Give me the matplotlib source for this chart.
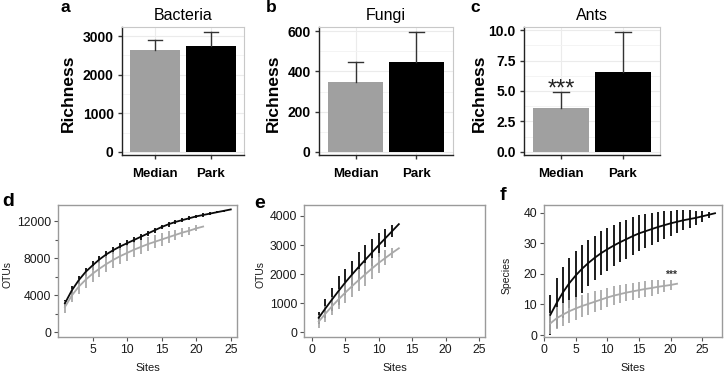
import numpy as np
import matplotlib.pyplot as plt
from matplotlib.ticker import MultipleLocator

plt.rcParams['font.family'] = ['Liberation Sans', 'DejaVu Sans']

# --- top row: richness bars (mean + sd) ---
groups = ['Median', 'Park']
bacteria_mean = [2640, 2750]
bacteria_sd = [260, 345]
fungi_mean = [347, 446]
fungi_sd = [100, 148]
ants_mean = [3.57, 6.55]
ants_sd = [1.32, 3.26]

# --- bottom row: accumulation curves ---
d_sites_park = np.arange(1, 26)
d_park = [3100, 4500, 5600, 6500, 7200, 7850, 8400, 8850, 9250, 9600, 9950, 10300, 10650,
          11000, 11350, 11650, 11900, 12100, 12300, 12500, 12650, 12800, 12950, 13100, 13250]
d_park_sd = [400, 450, 450, 450, 450, 420, 400, 380, 360, 340, 320, 300, 300,
             280, 260, 250, 230, 220, 200, 190, 170, 150, 130, 100, 0]
d_sites_med = np.arange(1, 22)
d_med = [2700, 3950, 4900, 5650, 6300, 6850, 7350, 7800, 8200, 8550, 8900, 9200, 9500,
         9750, 10000, 10250, 10500, 10750, 10950, 11200, 11400]
d_med_sd = [650, 750, 800, 850, 880, 900, 900, 900, 880, 860, 840, 800, 760,
            720, 680, 620, 560, 500, 420, 330, 0]

e_sites = np.arange(1, 14)
e_park = [500, 820, 1130, 1430, 1720, 1990, 2250, 2500, 2750, 3000, 3240, 3480, 3720]
e_park_sd = [210, 320, 400, 500, 450, 470, 500, 500, 460, 400, 300, 200, 0]
e_med = [370, 640, 900, 1140, 1370, 1590, 1800, 2000, 2200, 2390, 2560, 2730, 2890]
e_med_sd = [230, 270, 310, 340, 360, 380, 390, 390, 370, 340, 260, 180, 0]

f_sites_park = np.arange(1, 28)
f_park = [6.6, 10.5, 14.0, 17.0, 19.5, 21.7, 23.6, 25.3, 26.8, 28.1, 29.3, 30.4, 31.4, 32.4,
          33.3, 34.0, 34.7, 35.4, 36.0, 36.6, 37.1, 37.6, 38.0, 38.4, 38.9, 39.4, 39.9]
f_park_sd = [6.5, 8.1, 8.4, 8.3, 8.1, 7.8, 7.5, 7.3, 7.2, 7.0, 6.8, 6.6, 6.4, 6.2,
             5.9, 5.6, 5.3, 4.9, 4.5, 4.1, 3.7, 3.3, 2.8, 2.3, 1.8, 1.0, 0]
f_sites_med = np.arange(1, 22)
f_med = [3.8, 5.5, 6.7, 7.8, 8.7, 9.5, 10.2, 10.9, 11.6, 12.3, 12.9, 13.4, 13.9, 14.3,
         14.7, 15.1, 15.4, 15.8, 16.1, 16.4, 16.8]
f_med_sd = [3.5, 3.6, 3.7, 3.7, 3.7, 3.6, 3.5, 3.4, 3.3, 3.2, 3.1, 3.0, 2.9, 2.8,
            2.7, 2.6, 2.5, 2.3, 2.0, 1.6, 0]

W, H = 725, 373
fig = plt.figure(figsize=(W / 100, H / 100), dpi=100)


def axes_px(l, t, r, b):
    return fig.add_axes([l / W, 1 - b / H, (r - l) / W, (b - t) / H])


def ftext(x, y, s, **kw):
    fig.text(x / W, 1 - y / H, s, **kw)


bar_colors = ['#a0a0a0', '#000000']


def bar_panel(box, means, sds, title, ylim, ystep, letter, letter_xy, ylab_x):
    ax = axes_px(*box)
    x = np.arange(1, 3)
    ax.bar(x, means, width=0.9, color=bar_colors, zorder=3)
    for xi, m, s in zip(x, means, sds):
        ax.plot([xi, xi], [m, m + s], color='#333333', lw=1, zorder=4)
        ax.plot([xi - 0.13, xi + 0.13], [m + s, m + s], color='#333333', lw=1, zorder=4)
    ax.set_xlim(0.4, 2.6)
    ax.set_ylim(*ylim)
    ax.yaxis.set_major_locator(MultipleLocator(ystep))
    ax.yaxis.set_minor_locator(MultipleLocator(ystep / 2))
    ax.set_xticks(x)
    ax.set_xticklabels(groups)
    ax.grid(True, which='major', color='#ebebeb', lw=0.8, zorder=0)
    ax.grid(True, which='minor', axis='y', color='#f3f3f3', lw=0.6, zorder=0)
    ax.tick_params(which='minor', length=0)
    ax.tick_params(which='major', length=3, width=1, color='#333333',
                   labelsize=10, pad=3)
    ax.tick_params(axis='x', pad=6, labelsize=9.5)
    for lab in ax.get_xticklabels() + ax.get_yticklabels():
        lab.set_fontweight('bold')
    for side in ['top', 'right']:
        ax.spines[side].set_color('#c8c8c8')
        ax.spines[side].set_linewidth(0.8)
    for side in ['left', 'bottom']:
        ax.spines[side].set_color('#222222')
        ax.spines[side].set_linewidth(1)
    ax.set_title(title, fontsize=11.5, pad=5)
    ftext(ylab_x, 93, 'Richness', rotation=90, ha='center', va='center',
          fontsize=12.5, fontweight='bold')
    ftext(letter_xy[0], letter_xy[1], letter, ha='center', va='center',
          fontsize=12.5, fontweight='bold')
    return ax


bar_panel((122, 27, 244, 155), bacteria_mean, bacteria_sd, 'Bacteria',
          (-78, 3233), 1000, 'a', (65, 8), 68)
bar_panel((319, 27, 453, 155), fungi_mean, fungi_sd, 'Fungi',
          (-15, 620), 200, 'b', (271, 8), 273)
ax_c = bar_panel((524, 27, 660, 155), ants_mean, ants_sd, 'Ants',
                 (-0.25, 10.25), 2.5, 'c', (475, 8), 479)
ax_c.yaxis.set_major_formatter(plt.FormatStrFormatter('%.1f'))
# significance marker just above the Median error bar
# (the asterisk glyph sits high in its line box, hence the negative offset)
ax_c.text(1, ants_mean[0] + ants_sd[0] - 0.65, '***', ha='center', va='bottom',
          fontsize=17, color='#222222')


def curve_panel(box, xlim, ylim, xticks, yticks, ylabel, letter, letter_xy,
                ylab_x, series, yminor=None):
    ax = axes_px(*box)
    for xs, ys, sd, col, z in series:
        ax.errorbar(xs, ys, yerr=sd, fmt='none', ecolor=col, elinewidth=1.3,
                    capsize=0, zorder=z)
    for xs, ys, sd, col, z in series:
        ax.plot(xs, ys, color=col, lw=1.3, zorder=z + 2)
    ax.set_xlim(*xlim)
    ax.set_ylim(*ylim)
    ax.set_xticks(xticks)
    ax.set_yticks(yticks)
    if yminor is not None:
        ax.set_yticks(yminor, minor=True)
    ax.tick_params(which='both', length=3, width=0.8, color='#555555',
                   labelsize=8.8, labelcolor='#1a1a1a', pad=2)
    ax.tick_params(which='minor', length=2)
    for sp in ax.spines.values():
        sp.set_color('#9a9a9a')
        sp.set_linewidth(1)
    ftext((box[0] + box[2]) / 2, 368, 'Sites', ha='center', va='center',
          fontsize=8, color='#1a1a1a')
    ftext(ylab_x, 275, ylabel, rotation=90, ha='center', va='center',
          fontsize=7.5, color='#1a1a1a')
    ftext(letter_xy[0], letter_xy[1], letter, ha='center', va='center',
          fontsize=14, fontweight='bold')
    return ax


GRAY = '#a9a9a9'
BLACK = '#0a0a0a'

curve_panel((58, 205, 237, 337), (0, 25.9), (-540, 13730),
            [5, 10, 15, 20, 25], [0, 4000, 8000, 12000], 'OTUs', 'd', (8, 201), 8,
            [(d_sites_park, d_park, d_park_sd, BLACK, 2),
             (d_sites_med, d_med, d_med_sd, GRAY, 3)],
            yminor=[2000, 6000, 10000])

curve_panel((304, 205, 485, 337), (-1.2, 25.9), (-160, 4378),
            [0, 5, 10, 15, 20, 25], [0, 1000, 2000, 3000, 4000], 'OTUs', 'e',
            (260, 203), 260,
            [(e_sites, e_park, e_park_sd, BLACK, 2),
             (e_sites, e_med, e_med_sd, GRAY, 3)])

ax_f = curve_panel((544, 205, 722, 337), (0, 28.1), (-0.65, 42.6),
                   [0, 5, 10, 15, 20, 25], [0, 10, 20, 30, 40], 'Species', 'f',
                   (503, 196), 507,
                   [(f_sites_park, f_park, f_park_sd, BLACK, 2),
                    (f_sites_med, f_med, f_med_sd, GRAY, 3)])
ax_f.text(20, 19.6, '***', ha='center', va='center', fontsize=7.5,
          fontweight='bold', color='#333333')

fig.savefig('out.png', dpi=100)
